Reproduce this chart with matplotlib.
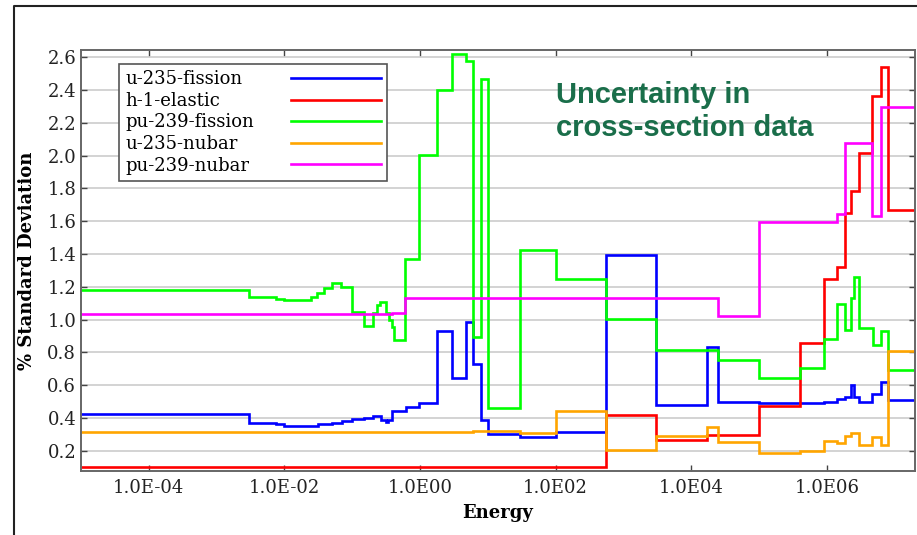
import math
import matplotlib
matplotlib.use("Agg")
import matplotlib.pyplot as plt
from matplotlib.lines import Line2D
from matplotlib.ticker import FixedLocator, FuncFormatter, NullLocator

# group boundaries (eV) and % standard deviation in each group
u235_fis_edges = [1e-5, 3e-3, 7.4e-3, 1e-2, 3.1e-2, 5.1e-2, 7.1e-2, 0.1, 0.15, 0.2, 0.27,
                  0.31, 0.34, 0.39, 0.62, 0.97, 1.76, 3.0, 4.7, 6.0, 8.0, 10, 30, 100, 550,
                  3000, 1.7e4, 2.5e4, 1e5, 4e5, 9e5, 1.4e6, 1.85e6, 2.25e6, 2.5e6, 3.0e6,
                  4.7e6, 6.3e6, 8.1e6, 2e7]
u235_fis = [0.426, 0.371, 0.361, 0.353, 0.361, 0.369, 0.379, 0.393, 0.401, 0.414, 0.387,
            0.373, 0.39, 0.44, 0.465, 0.494, 0.933, 0.642, 0.988, 0.729, 0.387, 0.302,
            0.285, 0.313, 1.395, 0.477, 0.835, 0.497, 0.491, 0.489, 0.497, 0.514, 0.53,
            0.60, 0.53, 0.499, 0.544, 0.621, 0.51]

h1_el_edges = [1e-5, 550, 3000, 1.7e4, 1e5, 4e5, 9e5, 1.4e6, 1.85e6, 2.3e6, 3.0e6,
               4.7e6, 6.3e6, 8.1e6, 2e7]
h1_el = [0.102, 0.418, 0.265, 0.296, 0.475, 0.856, 1.246, 1.323, 1.649, 1.784, 2.016,
         2.367, 2.544, 1.668]

pu239_fis_edges = [1e-5, 3e-3, 7.4e-3, 1e-2, 2.5e-2, 3.0e-2, 3.9e-2, 5.1e-2, 6.9e-2, 0.1,
                   0.15, 0.2, 0.23, 0.26, 0.32, 0.35, 0.39, 0.41, 0.61, 0.97, 1.76, 3.0,
                   4.7, 6.0, 8.0, 10, 30, 100, 550, 3000, 2.5e4, 1e5, 4e5, 9e5, 1.4e6,
                   1.85e6, 2.25e6, 2.5e6, 3.0e6, 4.8e6, 6.3e6, 8.1e6, 2e7]
pu239_fis = [1.181, 1.14, 1.128, 1.12, 1.14, 1.165, 1.195, 1.225, 1.20, 1.047, 0.961,
             1.039, 1.09, 1.11, 1.039, 0.998, 0.957, 0.876, 1.368, 2.005, 2.402, 2.622,
             2.575, 0.892, 2.467, 0.462, 1.425, 1.248, 1.004, 0.813, 0.752, 0.646, 0.707,
             0.88, 1.097, 0.935, 1.134, 1.262, 0.949, 0.843, 0.931, 0.691]

u235_nu_edges = [1e-5, 6.0, 30, 100, 550, 3000, 1.7e4, 2.5e4, 1e5, 4e5, 9e5, 1.4e6,
                 1.85e6, 2.25e6, 3.0e6, 4.7e6, 6.3e6, 8.1e6, 2e7]
u235_nu = [0.314, 0.322, 0.306, 0.443, 0.204, 0.292, 0.347, 0.253, 0.188, 0.196, 0.261,
           0.249, 0.29, 0.31, 0.233, 0.285, 0.233, 0.81]

pu239_nu_edges = [1e-5, 0.39, 0.61, 2.5e4, 1e5, 1.4e6, 1.85e6, 4.7e6, 6.3e6, 2e7]
pu239_nu = [1.036, 1.042, 1.132, 1.022, 1.594, 1.645, 2.076, 1.633, 2.30]

labels = ["u-235-fission", "h-1-elastic", "pu-239-fission", "u-235-nubar", "pu-239-nubar"]
colors = ["#0000ff", "#ff0000", "#00ff00", "#ffa500", "#ff00ff"]
series = [(u235_fis_edges, u235_fis), (h1_el_edges, h1_el), (pu239_fis_edges, pu239_fis),
          (u235_nu_edges, u235_nu), (pu239_nu_edges, pu239_nu)]
xticks = [1e-4, 1e-2, 1e0, 1e2, 1e4, 1e6]
yticks = [0.2, 0.4, 0.6, 0.8, 1.0, 1.2, 1.4, 1.6, 1.8, 2.0, 2.2, 2.4, 2.6]


def elabel(v, pos):
    e = round(math.log10(v))
    return "1.0E-%02d" % -e if e < 0 else "1.0E%02d" % e


plt.rcParams['font.family'] = ['DejaVu Serif']

fig = plt.figure(figsize=(9.17, 5.35), dpi=100)
ax = fig.add_axes([81 / 917, 1 - 470.7 / 535, 834 / 917, 420.7 / 535])

for (edges, vals), lab, col in zip(series, labels, colors):
    ax.stairs(vals, edges, baseline=None, color=col, lw=1.9, label=lab)

ax.set_xscale("log")
ax.set_xlim(1e-5, 2e7)
ax.set_ylim(0.078, 2.645)
ax.xaxis.set_major_locator(FixedLocator(xticks))
ax.xaxis.set_minor_locator(NullLocator())
ax.xaxis.set_major_formatter(FuncFormatter(elabel))
ax.set_yticks(yticks)
ax.set_yticklabels(["%.1f" % t for t in yticks])
ax.grid(axis="y", color="#c8c8c8", lw=1.1)
ax.set_axisbelow(True)
ax.tick_params(direction="in", length=4, width=1, colors="#444", labelcolor="#222",
               labelsize=13, top=True, right=True)
ax.tick_params(axis="x", pad=6)
ax.tick_params(axis="y", pad=3.5)
for s in ax.spines.values():
    s.set_color("#666")
    s.set_linewidth(1.4)

ax.set_ylabel("% Standard Deviation", fontsize=13, fontweight="bold")
ax.yaxis.set_label_coords(-0.054, 0.5)
ax.set_xlabel("Energy", fontsize=13, fontweight="bold")
ax.xaxis.set_label_coords(0.5, -0.078)

leg = ax.legend(loc="upper left", bbox_to_anchor=(0.046, 0.966), borderaxespad=0,
                markerfirst=False, fontsize=13, handlelength=5.0, labelspacing=0.2,
                borderpad=0.33, fancybox=False, framealpha=1, edgecolor="#555")
leg.get_frame().set_linewidth(1.2)
for line in leg.get_lines():
    line.set_linewidth(1.9)
for col in leg._legend_handle_box.get_children():
    for item in col.get_children():
        item.mode = "expand"
        item.width = 256

ax.text(0.5695, 0.9275, "Uncertainty in\ncross-section data", transform=ax.transAxes,
        ha="left", va="top", fontsize=21, fontweight="bold", color="#1a6e4a",
        family=["Liberation Sans", "DejaVu Sans"], linespacing=1.25)

fig.add_artist(Line2D([14 / 917, 14 / 917, 1.0], [0, 1 - 6 / 535, 1 - 6 / 535],
                      transform=fig.transFigure, color="#222", lw=1.5))

fig.savefig("out.png", dpi=100)
